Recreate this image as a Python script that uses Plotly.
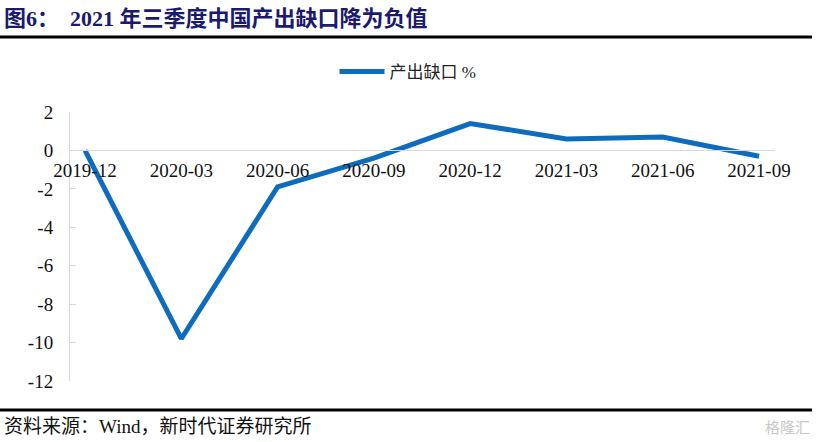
import plotly.graph_objects as go

categories = ["2019-12", "2020-03", "2020-06", "2020-09", "2020-12", "2021-03", "2021-06", "2021-09"]
output_gap = [0.0, -9.8, -1.9, -0.4, 1.4, 0.6, 0.7, -0.3]
y_ticks = [2, 0, -2, -4, -6, -8, -10, -12]

SERIF = "Liberation Serif, Times New Roman, Noto Sans CJK SC, serif"
L, R, T, B = 70, 43, 112, 61
W, H = 818, 442
ph = H - T - B
pw = W - L - R

def py(pix):
    return (H - B - pix) / ph

def px(pix):
    return (pix - L) / pw

fig = go.Figure()
fig.add_trace(go.Scatter(
    x=list(range(len(categories))), y=output_gap, mode="lines",
    name="产出缺口 %",
    line=dict(color="#0F6CBD", width=5),
))

fig.update_layout(
    width=W, height=H,
    margin=dict(l=L, r=R, t=T, b=B, autoexpand=False),
    paper_bgcolor="white", plot_bgcolor="white",
    showlegend=True,
    legend=dict(orientation="h", x=px(408), xanchor="center", y=py(72), yanchor="middle",
                itemwidth=45,
                font=dict(family=SERIF, size=17, color="#222"), bgcolor="rgba(0,0,0,0)"),
    xaxis=dict(
        range=[-0.156, 7.166],
        tickmode="array", tickvals=list(range(len(categories))), ticktext=categories,
        showgrid=False, zeroline=False, showline=True, linecolor="#d9d9d9", linewidth=1,
        ticks="", anchor="free", position=12/14,
        tickfont=dict(family=SERIF, size=19, color="#111"),
        ticklabelstandoff=3,
    ),
    yaxis=dict(
        range=[-12, 2], tickmode="array", tickvals=y_ticks, ticktext=[str(v) for v in y_ticks],
        showgrid=False, zeroline=False, showline=True, linecolor="#d9d9d9", linewidth=1,
        ticks="inside", ticklen=6, tickcolor="#d9d9d9",
        tickfont=dict(family=SERIF, size=19, color="#111"),
        ticklabelstandoff=12,
    ),
)

# Title
fig.add_annotation(xref="paper", yref="paper", x=px(2), y=py(18), xanchor="left", yanchor="middle",
                   text="<b>图6：  2021 年三季度中国产出缺口降为负值</b>", showarrow=False,
                   font=dict(family=SERIF, size=22, color="#1B1A6E"))
# Source
fig.add_annotation(xref="paper", yref="paper", x=px(2), y=py(427), xanchor="left", yanchor="middle",
                   text="资料来源：Wind，新时代证券研究所", showarrow=False,
                   font=dict(family=SERIF, size=19, color="#111"))
# Watermark
fig.add_annotation(xref="paper", yref="paper", x=px(812), y=py(427), xanchor="right", yanchor="middle",
                   text="格隆汇", showarrow=False,
                   font=dict(family="Noto Sans CJK SC", size=15, color="#c8c8c8"))

# Rules
fig.add_shape(type="line", xref="paper", yref="paper", x0=px(0), x1=px(812),
              y0=py(37), y1=py(37), line=dict(color="black", width=3))
fig.add_shape(type="line", xref="paper", yref="paper", x0=px(0), x1=px(812),
              y0=py(410), y1=py(410), line=dict(color="black", width=3))

fig.write_html("out.html", config={"displayModeBar": False},
               post_script="document.body.style.margin='0';document.body.style.padding='0';")
